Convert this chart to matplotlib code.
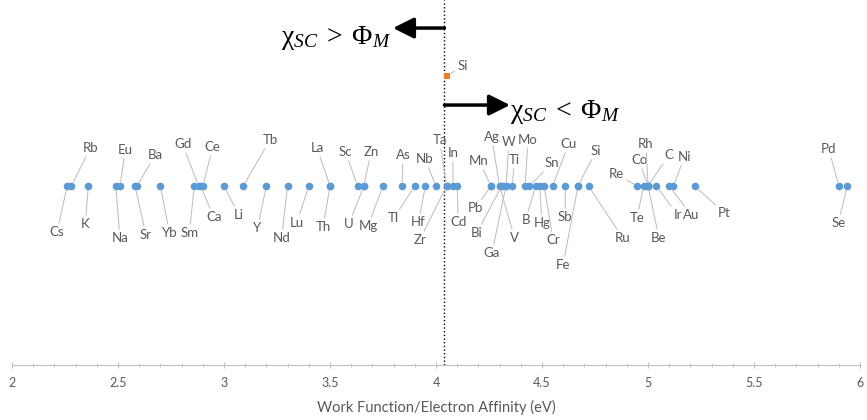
import matplotlib
matplotlib.use("Agg")
import matplotlib.pyplot as plt

# work function of metals (eV)
metal_names = ["Cs", "Rb", "K", "Na", "Eu", "Sr", "Ba", "Yb", "Sm", "Gd", "Ce", "Ca",
               "Li", "Tb", "Y", "Nd", "Lu", "La", "Th", "Sc", "Zn", "U", "Mg", "As",
               "Tl", "Hf", "Nb", "Ta", "Zr", "In", "Cd", "Mn", "Pb", "Ag", "V", "Bi",
               "Ga", "W", "Ti", "Mo", "Sn", "B", "Hg", "Cr", "Cu", "Sb", "Si", "Fe",
               "Ru", "Re", "Te", "Co", "Rh", "Be", "C", "Ir", "Au", "Ni", "Pt", "Pd", "Se"]
metal_wf = [2.26, 2.28, 2.36, 2.49, 2.51, 2.58, 2.59, 2.70, 2.86, 2.88, 2.90, 2.89,
            3.00, 3.09, 3.20, 3.30, 3.40, 3.50, 3.50, 3.63, 3.66, 3.66, 3.75, 3.84,
            3.90, 3.95, 4.00, 4.05, 4.05, 4.08, 4.10, 4.26, 4.26, 4.30, 4.30, 4.31,
            4.33, 4.33, 4.36, 4.42, 4.44, 4.47, 4.49, 4.51, 4.55, 4.61, 4.67, 4.67,
            4.72, 4.95, 4.98, 5.00, 5.00, 5.00, 5.00, 5.04, 5.10, 5.12, 5.22, 5.90, 5.94]

# electron affinity of the semiconductor
semi_names = ["Si"]
semi_ea = [4.05]

# label placement (pixel offset from the dot), layout only
label_offsets = [(-10, -46), (19, 38), (-3, -38), (4, -52), (5, 36), (11, -49), (18, 31),
                 (9, -47), (-5, -47), (-16, 42), (10, 39), (13, -31), (15, -29), (27, 46),
                 (-9, -42), (-6, -52), (-12, -37), (-13, 38), (-7, -41), (-12, 34), (7, 34),
                 (-15, -38), (-15, -40), (1, 31), (-21, -32), (-7, -36), (-11, 27), (-7, 46),
                 (-27, -54), (0, 33), (1, -36), (-12, 25), (-16, -22), (-8, 49), (15, -52),
                 (-25, -47), (-14, -67), (3, 44), (2, 26), (3, 46), (23, 23), (-10, -34),
                 (2, -37), (9, -54), (16, 42), (0, -31), (18, 35), (-15, -79), (34, -52),
                 (-21, 12), (-7, -32), (-9, 26), (-2, 42), (11, -52), (21, 31), (21, -29),
                 (22, -29), (11, 29), (30, -27), (-10, 37), (-9, -37)]

blue = "#5B9BD5"
orange = "#ED7D31"
grey_txt = "#595959"
grey_line = "#BFBFBF"
label_font = "Lato"

plt.rcParams["mathtext.fontset"] = "custom"
plt.rcParams["mathtext.rm"] = "Liberation Serif"
plt.rcParams["mathtext.it"] = "Liberation Serif:italic"

fig = plt.figure(figsize=(8.67, 4.2), dpi=100)
ax = fig.add_axes([12 / 867, 55 / 420, 848 / 867, 365 / 420])

y_metal = [1.0] * len(metal_wf)
y_semi = [2.0] * len(semi_ea)

ax.scatter(metal_wf, y_metal, s=30, color=blue, zorder=3, linewidths=0)
ax.scatter(semi_ea, y_semi, s=20, marker="s", color=orange, zorder=3, linewidths=0)

for name, x, y, off in zip(metal_names, metal_wf, y_metal, label_offsets):
    ax.annotate(name, xy=(x, y), xytext=off, textcoords="offset pixels",
                ha="center", va="center", fontsize=9.5, color=grey_txt,
                family=label_font,
                arrowprops=dict(arrowstyle="-", color=grey_line, lw=0.75,
                                shrinkA=0, shrinkB=3))

for name, x, y in zip(semi_names, semi_ea, y_semi):
    ax.annotate(name, xy=(x, y), xytext=(16, 10), textcoords="offset pixels",
                ha="center", va="center", fontsize=9.5, color=grey_txt,
                family=label_font,
                arrowprops=dict(arrowstyle="-", color=grey_line, lw=0.75,
                                shrinkA=0, shrinkB=3))

# boundary at the semiconductor electron affinity
x_b = semi_ea[0] - 0.01
ax.axvline(x_b, color="black", ls=":", lw=1, zorder=2)

ax.annotate("", xy=(3.797, 2.436), xytext=(x_b, 2.436),
            arrowprops=dict(arrowstyle="-|>,head_length=0.9,head_width=0.45",
                            color="black", lw=2.5, shrinkA=0, shrinkB=0,
                            mutation_scale=14))
ax.annotate("", xy=(4.349, 1.736), xytext=(x_b, 1.736),
            arrowprops=dict(arrowstyle="-|>,head_length=0.9,head_width=0.45",
                            color="black", lw=2.5, shrinkA=0, shrinkB=0,
                            mutation_scale=14))
ax.text(3.528, 2.35, r"$\mathrm{\chi}_{SC}\;>\;\Phi_{M}$", fontsize=20,
        ha="center", va="center", color="black")
ax.text(4.61, 1.67, r"$\mathrm{\chi}_{SC}\;<\;\Phi_{M}$", fontsize=20,
        ha="center", va="center", color="black")

ax.set_xlim(2, 6)
ax.set_ylim(-0.627, 2.691)
ax.set_xticks([2, 2.5, 3, 3.5, 4, 4.5, 5, 5.5, 6])
ax.set_xticklabels(["2", "2.5", "3", "3.5", "4", "4.5", "5", "5.5", "6"])
ax.set_xticks([i / 10 for i in range(20, 61)], minor=True)
ax.set_yticks([])
for side in ["left", "top", "right"]:
    ax.spines[side].set_visible(False)
ax.spines["bottom"].set_color(grey_line)
ax.tick_params(axis="x", which="major", length=5, direction="inout", color=grey_line,
               labelcolor=grey_txt, labelsize=9, pad=6)
ax.tick_params(axis="x", which="minor", length=3, direction="inout", color=grey_line)
for lab in ax.get_xticklabels():
    lab.set_family(label_font)
ax.set_xlabel("Work Function/Electron Affinity (eV)", fontsize=10.5, color=grey_txt,
              family=label_font, labelpad=8)
ax.patch.set_alpha(0)

fig.savefig("out.png", dpi=100)
